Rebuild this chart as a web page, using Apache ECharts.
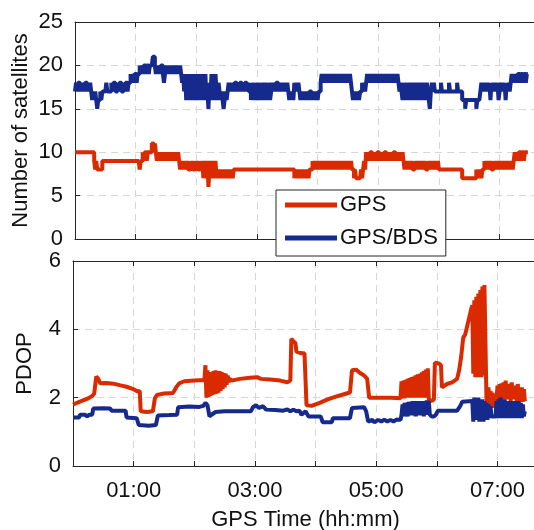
<!DOCTYPE html>
<html>
<head>
<meta charset="utf-8">
<script src="https://cdn.jsdelivr.net/npm/echarts@6/dist/echarts.min.js"></script>
<style>
html,body{margin:0;padding:0;background:#fff;}
#chart{width:534px;height:530px;}
</style>
</head>
<body>
<div id="chart"></div>
<script>
// time in minutes after 00:00 GPS time
const seriesNames = ['GPS', 'GPS/BDS'];
const xTickHours = [1, 3, 5, 7];

// Number of satellites [minute, count]
const gpsSats = [
[0,10],[19,9],[20,8],[21,9],[22,8],[23,8],[25,8],[27,9],[63,9],[64,8],[65,9],[66,9],[67,10],[68,9],[69,10],[70,10],[71,9],[72,10],[73,10],[74,10],[75,10],[76,11],[77,11],[78,10],[79,11],[80,10],
[81,9],[82,10],[83,9],[84,10],[85,9],[86,10],[87,9],[88,10],[89,9],[90,10],[91,9],[92,10],[93,9],[94,10],[95,9],[96,10],[97,9],[98,10],[99,9],[100,10],[101,9],[102,10],[103,9],
[104,8],[105,9],[106,8],[107,9],[108,8],[109,9],[110,8],[111,9],[112,8],[113,8],[114,9],[115,8],[116,9],[117,8],[118,8],[119,9],[120,8],[121,9],[122,8],[123,8],[124,9],[125,8],[126,9],
[127,7],[128,9],[129,8],[130,7],[131,9],[132,6],[133,8],[134,7],[135,9],[136,7],[137,8],[138,7],[139,9],[140,7],[141,8],[142,7],[143,8],[144,7],[145,8],[146,7],[147,8],[148,7],[149,8],[150,7],[151,8],[152,7],[153,8],[154,7],[155,8],[156,7],[157,8],
[217,7],[218,8],[219,7],[220,8],[221,7],[222,8],[223,7],[224,8],[225,7],[226,8],[227,7],[228,8],[229,7],[230,8],[231,7],[232,8],[233,8],
[235,9],[236,8],[237,9],[238,8],[239,9],[240,8],[241,9],[242,8],[243,9],[244,8],[245,9],[246,8],[247,9],[248,8],[249,9],[250,8],[251,9],[252,8],[253,9],[254,8],[255,9],[256,8],[257,9],[258,8],[259,9],[260,8],[261,9],[262,8],[263,9],[264,8],[265,9],[266,8],[267,9],[268,8],[269,9],[270,8],[271,9],[272,8],[273,9],[274,8],[275,8],
[276,7],[277,8],[278,7],[282,7],[283,8],[284,7],[285,8],[286,9],[287,8],
[288,10],[289,9],[290,10],[291,9],[292,10],[293,10],[294,9],[295,10],[296,9],[297,10],[298,9],[299,10],[300,10],[301,9],[302,10],[303,9],[304,10],[305,9],[306,10],[307,10],[308,9],[309,10],[310,9],[311,10],[312,9],[313,10],[314,9],[315,10],[316,10],[317,9],[318,10],[319,9],[320,10],[321,9],[322,10],[323,9],[324,10],[325,9],
[326,8],[327,9],[328,8],[329,9],[330,8],[331,9],[332,8],[333,9],[334,8],[335,8],[336,9],[337,8],[338,9],[339,8],[340,9],[341,8],[342,9],[343,8],[344,9],[345,8],[346,9],[347,8],[348,8],[349,9],[350,8],[351,9],[352,8],[353,9],[354,8],[355,9],[356,8],[357,9],[358,8],[359,9],[360,8],
[383,7],[397,8],[398,7],[399,8],[400,7],[401,8],[402,7],[403,8],
[404,8],[405,9],[406,8],[407,9],[408,8],[409,9],[410,8],[411,9],[412,8],[413,8],[414,9],[415,8],[416,9],[417,8],[418,9],[419,8],[420,9],[421,8],[422,9],[423,8],[424,9],[425,8],[426,9],[427,8],[428,9],[429,8],[430,9],[431,8],[432,9],[433,8],
[434,9],[435,10],[436,9],[437,10],[438,9],[439,10],[440,10],[441,9],[442,10],[443,10],[444,9],[445,10],[446,10],[448,10]
];
const bdsSats = [
[0,17],[1,18],[2,17],[3,18],[4,18],[5,17],[6,18],[7,17],[8,18],[9,17],[10,18],[11,18],[12,17],[13,18],[14,17],[15,18],[16,17],
[17,16],[18,17],[19,16],[20,17],[21,16],[22,15],[23,16],[24,16],[25,17],[26,16],[27,17],[30,17],[31,18],[32,17],
[36,18],[37,17],[38,18],[40,17],[42,18],[43,17],[44,18],[46,17],[48,18],[49,17],[50,18],[52,17],[53,18],
[54,18],[55,19],[56,18],[57,19],[58,18],[59,19],[60,19],[61,18],[62,19],[63,19],
[64,20],[65,19],[66,20],[67,19],[68,20],[69,20],[70,19],[71,20],[72,20],[73,19],[74,20],[75,20],[76,20],[77,21],[79,20],
[80,19],[81,20],[82,19],[83,20],[84,19],[85,20],[86,20],[87,19],[88,18],[89,19],[90,20],[91,19],[92,20],[93,19],[94,20],[95,19],[96,20],[97,19],[98,20],[99,19],[100,20],[101,19],[102,20],[103,19],[104,20],[105,19],
[106,18],[107,19],[108,17],[109,19],[110,16],[111,18],[112,17],[113,19],[114,16],[115,18],[116,17],[117,19],[118,16],[119,18],[120,17],[121,19],[122,16],[123,18],[124,17],[125,19],[126,16],[127,18],[128,17],[129,19],[130,16],[131,17],[132,15],[133,18],[134,16],[135,19],[136,17],[137,18],[138,16],[139,19],[140,17],[141,16],[142,18],[143,17],[144,16],
[145,17],[146,16],[147,15],[148,16],[149,17],[150,16],[151,17],
[152,18],[153,17],[154,18],[155,17],[156,18],[157,17],[158,18],[160,17],[161,18],[162,17],[163,18],[165,17],[166,18],[167,17],[168,18],[170,17],[171,18],[172,17],
[174,16],[175,18],[176,17],[177,16],[178,18],[179,17],[180,16],[181,18],[182,17],[183,16],[184,18],[185,17],[186,16],[187,17],[188,18],[189,17],[190,16],[191,18],[192,17],[193,16],[194,17],[195,18],
[196,17],[197,18],[198,17],[199,18],[200,18],[201,17],[202,18],[203,17],[204,18],[205,17],[206,18],[207,17],[208,18],[209,17],[210,18],[211,17],
[212,16],[213,17],[214,16],[215,17],[216,16],[217,18],[218,17],[219,18],[220,17],[221,18],[222,17],[223,16],[224,17],[225,16],[226,17],[227,16],[228,17],[229,16],[230,17],[231,16],[232,17],[233,17],[234,16],[235,17],[236,16],[237,17],[238,16],[239,17],[240,16],[241,17],[242,17],
[243,18],[244,19],[245,18],[246,19],[247,18],[248,19],[249,18],[250,19],[251,18],[252,19],[253,18],[254,19],[255,18],[256,19],[257,18],[258,19],[259,18],[260,19],[261,18],[262,19],[263,18],[264,19],[265,18],[266,19],[267,18],[268,19],[269,18],[270,19],[271,18],[272,19],[273,18],
[274,17],[275,16],[276,17],[277,16],[278,17],[279,16],[280,17],[281,16],[282,17],[283,17],[284,18],[285,17],[286,18],[287,17],[288,18],
[289,19],[290,18],[291,19],[292,18],[293,19],[294,18],[295,19],[296,18],[297,19],[298,18],[299,19],[300,18],[301,19],[302,18],[303,19],[304,18],[305,19],[306,18],[307,19],[308,18],[309,19],[310,18],[311,19],[312,18],[313,19],[314,18],[315,19],[316,18],[317,19],[318,18],[319,19],[320,18],
[321,17],[322,18],[323,17],[324,16],[325,18],[326,17],[327,16],[328,18],[329,17],[330,16],[331,17],[332,18],[333,17],[334,16],[335,17],[336,18],[337,17],[338,16],[339,17],[340,18],[341,17],[342,16],[343,17],[344,18],[345,17],[346,16],[347,17],[348,18],[349,17],[350,16],[351,15],[352,17],[353,18],[354,17],[355,18],[356,17],[357,17],
[362,18],[363,17],[368,17],[370,18],[371,17],[376,17],[378,18],[379,17],
[383,16],[386,15],[387,16],[393,16],[397,15],[398,16],[400,16],
[401,17],[402,18],[403,17],[404,18],[405,17],[406,18],[407,17],[408,18],[409,17],[410,18],[411,16],[412,18],[413,17],[414,18],[415,17],[416,18],[417,17],[418,18],[419,16],[420,17],[421,18],[422,17],[423,18],[424,17],[425,18],[426,16],[427,18],[428,17],[429,18],[430,17],[431,18],
[432,19],[433,18],[434,19],[435,18],[436,19],[437,18],[438,19],[439,19],[440,18],[441,19],[442,19],[443,18],[444,19],[445,19],[446,18],[447,19],[448,19]
];

// PDOP [minute, value]
const gpsPdop = [
[0,1.80],[5,1.86],[10,1.92],[15,1.98],[19,2.05],[21,2.12],[23,2.62],[25,2.55],[27,2.42],[33,2.43],[40,2.41],[47,2.36],[53,2.32],[59,2.26],[64,2.18],[66,2.2],[67,1.6],[73,1.58],[79,1.6],[81,1.98],[83,2.08],[90,2.12],[99,2.14],[102,2.3],[105,2.42],[110,2.48],[120,2.5],[130,2.52],
[131,2.95],[132,2.0],[133,2.8],[134,2.02],[135,2.75],[136,2.05],[137,2.72],[138,2.08],[139,2.78],[140,2.1],[141,2.8],[142,2.12],[143,2.75],[144,2.15],[145,2.78],[146,2.2],[147,2.75],[148,2.25],[149,2.72],[150,2.3],[151,2.7],[152,2.38],[153,2.65],[154,2.45],[155,2.55],[157,2.5],
[165,2.55],[175,2.58],[182,2.6],[186,2.55],[195,2.53],[205,2.5],[212,2.45],[215,2.5],
[216,3.72],[218,3.65],[220,3.6],[221,3.35],[226,3.3],[229,3.3],[231,1.78],[236,1.76],[244,1.85],[252,1.95],[260,2.03],[268,2.1],[274,2.15],[276,2.8],[280,2.82],[284,2.72],[288,2.65],[291,2.55],[293,2.0],[305,2.0],[315,2.0],[324,1.98],
[325,2.48],[326,1.98],[327,2.5],[328,1.98],[329,2.52],[330,2.0],[331,2.55],[332,2.0],[333,2.57],[334,2.0],[335,2.6],[336,2.02],[337,2.62],[338,2.0],[339,2.65],[340,2.02],[341,2.68],[342,2.0],[343,2.7],[344,2.02],[345,2.74],[346,2.0],[347,2.78],[348,2.02],[349,2.82],[350,2.0],[351,2.86],[352,1.95],[355,1.9],[357,1.95],
[358,3.02],[362,3.0],[364,2.95],[365,2.3],[370,2.4],[375,2.45],[380,2.55],[382,2.8],[384,3.2],[386,3.75],[388,3.85],[390,4.1],[392,4.35],[394,4.6],[395,4.7],
[396,2.7],[397,4.85],[398,2.6],[399,4.95],[400,2.65],[401,5.05],[402,2.6],[403,5.15],[404,2.6],[405,5.25],[406,2.65],[407,5.3],[408,5.3],
[409,2.0],[410,1.75],[411,2.3],[412,1.72],[413,2.2],[414,1.75],[415,2.15],[416,1.7],[417,2.1],[418,1.72],[419,2.0],[420,2.35],[421,1.9],[422,2.4],[423,2.0],[424,2.42],[425,1.95],[426,2.45],[427,2.0],[428,2.5],[429,1.95],[430,2.4],[431,2.0],[432,2.35],[433,1.9],[434,2.45],[435,2.0],[436,2.3],[437,1.95],[438,2.35],[439,1.9],[440,2.4],[441,1.95],[442,2.3],[443,1.9],[444,2.3],[445,1.88],[446,2.25],[447,1.9]
];
const bdsPdop = [
[0,1.42],[6,1.42],[7,1.5],[12,1.5],[14,1.45],[16,1.5],[19,1.5],[20,1.68],[30,1.69],[37,1.68],[38,1.62],[52,1.62],[53,1.42],[63,1.4],[65,1.2],[75,1.18],[82,1.2],[84,1.48],[95,1.49],[103,1.5],[104,1.72],[115,1.74],[125,1.73],[129,1.76],[131,1.85],[133,1.78],[135,1.45],[137,1.5],[141,1.58],[150,1.6],[165,1.6],[176,1.6],[178,1.72],[181,1.78],[184,1.7],[188,1.75],[191,1.65],[200,1.64],[208,1.62],[212,1.66],[215,1.6],[218,1.65],[221,1.6],[224,1.62],[226,1.5],[230,1.6],[233,1.45],[245,1.45],[247,1.28],[256,1.28],[257,1.4],[274,1.4],[276,1.7],[288,1.72],[290,1.6],[292,1.3],[296,1.35],[298,1.28],[302,1.35],[305,1.3],[308,1.36],[311,1.3],[314,1.35],[317,1.3],[320,1.36],[324,1.35],
[325,1.5],[326,1.8],[327,1.45],[328,1.85],[329,1.5],[330,1.8],[331,1.45],[332,1.88],[333,1.5],[334,1.85],[335,1.48],[336,1.9],[337,1.5],[338,1.85],[339,1.45],[340,1.9],[341,1.5],[342,1.88],[343,1.48],[344,1.9],[345,1.5],[346,1.85],[347,1.45],[348,1.9],[349,1.5],[350,1.92],[351,1.5],[352,1.9],[353,1.5],[355,1.45],[357,1.45],[359,1.5],
[361,1.62],[370,1.62],[380,1.62],[383,1.75],[385,1.88],[395,1.9],
[396,1.3],[397,2.0],[398,1.4],[399,1.95],[400,1.35],[401,2.0],[402,1.3],[403,1.92],[404,1.35],[405,1.95],[406,1.3],[407,1.9],[408,1.35],[409,1.85],[410,1.35],[411,1.8],[412,1.4],[413,1.75],[414,1.45],[416,1.45],[418,1.45],
[419,1.9],[420,1.4],[421,1.95],[422,1.45],[423,2.0],[424,1.4],[425,1.9],[426,1.45],[427,1.95],[428,1.4],[429,1.9],[430,1.45],[431,1.85],[432,1.4],[433,1.9],[434,1.45],[435,1.85],[436,1.4],[437,1.9],[438,1.45],[439,1.85],[440,1.4],[441,1.9],[442,1.45],[443,1.85],[444,1.4],[445,1.8],[446,1.45],[447,1.6]
];

const RED = '#DA2A00';
const BLUE = '#16298C';
const AX = '#262626';
const FONT = '"Liberation Sans", Arial, Helvetica, sans-serif';
const FS = 22;
const LW = 4;

function fmtTime(v) {
  const h = v / 60;
  if (xTickHours.indexOf(h) < 0) return '';
  return (h < 10 ? '0' : '') + h + ':00';
}

const gridLine = { show: true, lineStyle: { color: '#d6d6d6', type: [7, 5], width: 1 } };
const axisLine = { show: true, lineStyle: { color: AX, width: 1 } };
const tickIn = { show: true, inside: true, length: 5, lineStyle: { color: AX } };

function xAx(gridIndex, pos, labels) {
  return {
    type: 'value', gridIndex: gridIndex, position: pos, min: 0, max: 460, interval: 60,
    axisLine: axisLine, axisTick: tickIn,
    splitLine: pos === 'bottom' ? gridLine : { show: false },
    axisLabel: labels ? { show: true, formatter: fmtTime, margin: 14, color: '#111', fontSize: FS, fontFamily: FONT, showMaxLabel: false } : { show: false },
    name: labels ? 'GPS Time (hh:mm)' : '', nameLocation: 'middle', nameGap: 43, nameMoveOverlap: false,
    nameTextStyle: { color: '#111', fontSize: FS, fontFamily: FONT }
  };
}

function lineSeries(name, xi, yi, data, color, step) {
  const s = { name: name, type: 'line', xAxisIndex: xi, yAxisIndex: yi, data: data,
    showSymbol: false, symbol: 'none', color: color, lineStyle: { color: color, width: LW, join: 'bevel', cap: 'butt' } };
  if (step) s.step = 'end';
  return s;
}

const chart = echarts.init(document.getElementById('chart'), null, { renderer: 'canvas' });
chart.setOption({
  animation: false,
  backgroundColor: '#fff',
  grid: [
    { left: 75, top: 22, width: 465, height: 217, containLabel: false, outerBoundsMode: 'none' },
    { left: 73, top: 261, width: 465, height: 205, containLabel: false, outerBoundsMode: 'none' }
  ],
  xAxis: [xAx(0, 'bottom', false), xAx(0, 'top', false), xAx(1, 'bottom', true), xAx(1, 'top', false)],
  yAxis: [
    { type: 'value', gridIndex: 0, min: 0, max: 25, interval: 5,
      axisLine: axisLine, axisTick: tickIn, splitLine: gridLine,
      axisLabel: { margin: 12, color: '#111', fontSize: FS, fontFamily: FONT },
      name: 'Number of satellites', nameLocation: 'middle', nameGap: 43, nameMoveOverlap: false,
      nameTextStyle: { color: '#111', fontSize: FS, fontFamily: FONT } },
    { type: 'value', gridIndex: 1, min: 0, max: 6, interval: 2,
      axisLine: axisLine, axisTick: tickIn, splitLine: gridLine,
      axisLabel: { margin: 12, color: '#111', fontSize: FS, fontFamily: FONT },
      name: 'PDOP', nameLocation: 'middle', nameGap: 37, nameMoveOverlap: false,
      nameTextStyle: { color: '#111', fontSize: FS, fontFamily: FONT } }
  ],
  legend: {
    data: seriesNames, orient: 'vertical', left: 276, top: 190,
    icon: 'rect', itemWidth: 52, itemHeight: 5, itemGap: 11,
    padding: [4, 8, 7, 9], backgroundColor: '#fff', borderColor: AX, borderWidth: 1, borderRadius: 0,
    textStyle: { color: '#111', fontSize: FS, fontFamily: FONT, padding: [3, 0, 0, -2] },
    z: 10
  },
  series: [
    lineSeries(seriesNames[0], 0, 0, gpsSats, RED, true),
    lineSeries(seriesNames[1], 0, 0, bdsSats, BLUE, true),
    lineSeries(seriesNames[0], 2, 1, gpsPdop, RED, false),
    lineSeries(seriesNames[1], 2, 1, bdsPdop, BLUE, false)
  ]
});
</script>
</body>
</html>
